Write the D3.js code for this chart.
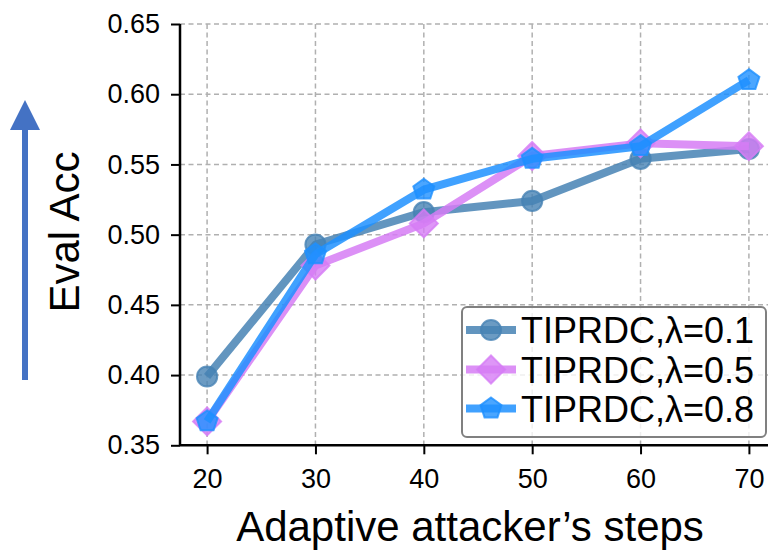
<!DOCTYPE html>
<html>
<head>
<meta charset="utf-8">
<script src="https://cdn.jsdelivr.net/npm/d3@7"></script>
<style>
  body { margin: 0; background: #fff; }
  svg { display: block; font-family: "Liberation Sans", Arial, sans-serif; }
</style>
</head>
<body>
<svg id="chart"></svg>
<script>
const steps = [20, 30, 40, 50, 60, 70]
const acc01 = [0.399, 0.493, 0.516, 0.524, 0.554, 0.561]
const acc05 = [0.367, 0.478, 0.508, 0.556, 0.565, 0.563]
const acc08 = [0.367, 0.486, 0.532, 0.554, 0.563, 0.610]
const seriesNames = ["TIPRDC,λ=0.1", "TIPRDC,λ=0.5", "TIPRDC,λ=0.8"]
const yTicks = [0.35, 0.40, 0.45, 0.50, 0.55, 0.60, 0.65]

const width = 768, height = 550
const plotLeft = 180, plotTop = 24, plotBottom = 445.3

const svg = d3.select("#chart")
    .attr("width", width)
    .attr("height", height)

const x = d3.scaleLinear().domain([17.5, 72.5]).range([plotLeft, 776])
const y = d3.scaleLinear().domain([0.35, 0.65]).range([plotBottom, plotTop])

// grid
const grid = svg.append("g")
grid.selectAll("line.gx")
    .data(steps)
    .enter().append("line")
    .attr("x1", d => x(d)).attr("x2", d => x(d))
    .attr("y1", plotTop).attr("y2", plotBottom)
grid.selectAll("line.gy")
    .data(yTicks)
    .enter().append("line")
    .attr("x1", plotLeft).attr("x2", width)
    .attr("y1", d => y(d)).attr("y2", d => y(d))
grid.selectAll("line")
    .attr("stroke", "#b0b0b0")
    .attr("stroke-width", 1.5)
    .attr("stroke-dasharray", "5,3.5")

// axes
const xAxis = svg.append("g")
    .attr("transform", "translate(0," + plotBottom + ")")
    .call(d3.axisBottom(x).tickValues(steps).tickSize(9).tickPadding(15).tickFormat(d3.format("d")))
const yAxis = svg.append("g")
    .attr("transform", "translate(" + plotLeft + ",0)")
    .call(d3.axisLeft(y).tickValues(yTicks).tickSize(9).tickPadding(11).tickFormat(d3.format(".2f")))
svg.selectAll(".domain").attr("stroke", "#000").attr("stroke-width", 2.5)
xAxis.select(".domain").attr("d", "M" + plotLeft + ",0H" + width)
yAxis.select(".domain").attr("d", "M0," + plotBottom + "V" + plotTop)
svg.selectAll(".tick line").attr("stroke", "#000").attr("stroke-width", 2)
svg.selectAll(".tick text").attr("fill", "#000").attr("font-size", 27)
    .attr("font-family", "Liberation Sans, Arial, sans-serif")

// series
const diamond = (r) => "M0," + (-r) + "L" + r + ",0L0," + r + "L" + (-r) + ",0Z"
const pentagon = (r) => {
    const pts = d3.range(5).map(i => {
        const a = -Math.PI / 2 + i * 2 * Math.PI / 5
        return [r * Math.cos(a), r * Math.sin(a)]
    })
    return "M" + pts.map(p => p.join(",")).join("L") + "Z"
}

const series = [
    { name: seriesNames[0], values: acc01, color: "#4682b4", marker: d3.symbol(d3.symbolCircle, 320)() },
    { name: seriesNames[1], values: acc05, color: "#d67cf5", marker: diamond(14) },
    { name: seriesNames[2], values: acc08, color: "#1e90ff", marker: pentagon(11) }
]

const line = d3.line()
    .x((d, i) => x(steps[i]))
    .y(d => y(d))

series.forEach(s => {
    const g = svg.append("g")
    g.append("path")
        .attr("d", line(s.values))
        .attr("fill", "none")
        .attr("stroke", s.color)
        .attr("stroke-opacity", 0.85)
        .attr("stroke-width", 8)
        .attr("stroke-linejoin", "round")
    g.selectAll("path.m")
        .data(s.values)
        .enter().append("path")
        .attr("d", s.marker)
        .attr("transform", (d, i) => "translate(" + x(steps[i]) + "," + y(d) + ")")
        .attr("fill", s.color)
        .attr("fill-opacity", 0.8)
        .attr("stroke", s.color)
        .attr("stroke-opacity", 0.8)
        .attr("stroke-width", 2)
})

// legend
const legend = svg.append("g")
legend.append("rect")
    .attr("x", 462).attr("y", 307)
    .attr("width", 304).attr("height", 130)
    .attr("rx", 5)
    .attr("fill", "#fff").attr("fill-opacity", 0.8)
    .attr("stroke", "#808080").attr("stroke-width", 2)
const rowY = [330, 369.5, 408.5]
series.forEach((s, i) => {
    const g = legend.append("g").attr("transform", "translate(0," + rowY[i] + ")")
    g.append("line")
        .attr("x1", 466).attr("x2", 516)
        .attr("stroke", s.color).attr("stroke-opacity", 0.85).attr("stroke-width", 8)
    g.append("path")
        .attr("d", s.marker)
        .attr("transform", "translate(491,0)")
        .attr("fill", s.color).attr("fill-opacity", 0.8)
        .attr("stroke", s.color).attr("stroke-opacity", 0.8).attr("stroke-width", 2)
    g.append("text")
        .attr("x", 521).attr("y", 13)
        .attr("font-size", 36)
        .text(s.name)
})

// axis titles
svg.append("text")
    .attr("x", 470).attr("y", 541)
    .attr("text-anchor", "middle")
    .attr("font-size", 42)
    .text("Adaptive attacker’s steps")
svg.append("text")
    .attr("transform", "translate(79,232) rotate(-90)")
    .attr("text-anchor", "middle")
    .attr("font-size", 42)
    .text("Eval Acc")

// arrow
svg.append("line")
    .attr("x1", 25).attr("x2", 25)
    .attr("y1", 380).attr("y2", 126)
    .attr("stroke", "#4472c4").attr("stroke-width", 6)
svg.append("path")
    .attr("d", "M25,100L40,130L10,130Z")
    .attr("fill", "#4472c4")
</script>
</body>
</html>
